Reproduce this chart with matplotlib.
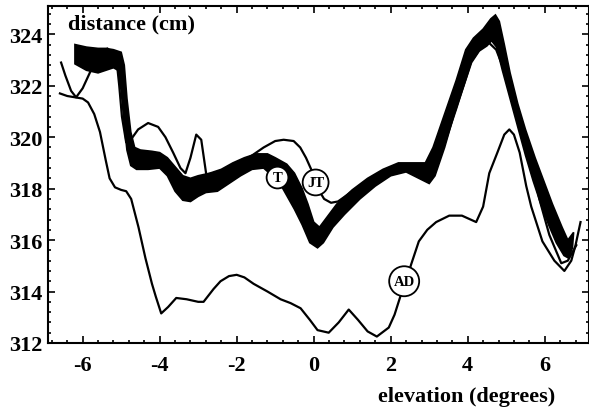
import matplotlib
matplotlib.use("Agg")
from matplotlib import pyplot as plt
from matplotlib.ticker import MultipleLocator

# thick band (T): upper/right edge and lower/left edge
band_hi_x = [-6.2, -5.9, -5.6, -5.4, -5.2, -5.0, -4.92, -4.85, -4.75, -4.65, -4.5, -4.2, -4.0, -3.8, -3.6,
             -3.4, -3.2, -3.0, -2.7, -2.4, -2.1, -1.8, -1.5, -1.2, -1.0, -0.7, -0.5, -0.3, -0.15, 0.0,
             0.15, 0.3, 0.6, 1.0, 1.4, 1.8, 2.2, 2.6, 2.9, 3.1, 3.4, 3.7, 3.95, 4.15, 4.4, 4.6, 4.72,
             4.82, 4.95, 5.1, 5.3, 5.5, 5.75, 5.95, 6.2, 6.45, 6.6, 6.75]
band_hi_y = [323.6, 323.5, 323.45, 323.45, 323.4, 323.3, 322.8, 321.5, 320.2, 319.6, 319.5, 319.45, 319.4,
             319.2, 318.85, 318.5, 318.4, 318.5, 318.6, 318.75, 319.0, 319.2, 319.35, 319.35, 319.2,
             318.95, 318.6, 318.0, 317.4, 316.7, 316.5, 316.8, 317.4, 317.95, 318.4, 318.75, 319.0,
             319.0, 319.0, 319.6, 320.9, 322.2, 323.4, 323.85, 324.2, 324.6, 324.75, 324.5, 323.6,
             322.5, 321.3, 320.3, 319.2, 318.4, 317.4, 316.5, 316.0, 316.3]
band_lo_x = [-6.2, -5.9, -5.6, -5.4, -5.2, -5.08, -5.0, -4.92, -4.85, -4.75, -4.6, -4.3, -4.0, -3.8, -3.6,
             -3.4, -3.2, -3.0, -2.8, -2.5, -2.2, -1.9, -1.6, -1.3, -1.0, -0.8, -0.5, -0.3, -0.1, 0.1,
             0.25, 0.5, 0.8, 1.2, 1.6, 2.0, 2.4, 2.8, 3.0, 3.15, 3.4, 3.65, 3.9, 4.1, 4.3, 4.5, 4.62,
             4.75, 4.9, 5.1, 5.3, 5.5, 5.7, 5.9, 6.1, 6.3, 6.5, 6.62, 6.72]
band_lo_y = [322.85, 322.6, 322.5, 322.6, 322.7, 322.6, 321.8, 320.5, 319.5, 318.9, 318.75, 318.75, 318.8,
             318.5, 317.9, 317.55, 317.5, 317.7, 317.85, 317.9, 318.2, 318.5, 318.75, 318.8, 318.4,
             318.0, 317.2, 316.6, 315.9, 315.7, 315.9, 316.5, 317.0, 317.6, 318.1, 318.5, 318.65,
             318.35, 318.2, 318.5, 319.6, 320.9, 322.0, 322.9, 323.35, 323.55, 323.75, 323.5, 322.6,
             321.5, 320.4, 319.3, 318.3, 317.4, 316.6, 315.9, 315.4, 315.3, 315.7]

# JT curve
jt_x = [-6.56, -6.45, -6.3, -6.17, -6.0, -5.8, -5.6, -5.45, -5.36, -5.25, -5.12, -5.05, -4.98, -4.87,
        -4.75, -4.56, -4.3, -4.04, -3.85, -3.65, -3.46, -3.33, -3.2, -3.05, -2.92, -2.79, -2.6, -2.3,
        -2.0, -1.64, -1.3, -1.0, -0.78, -0.52, -0.35, -0.2, -0.05, 0.05, 0.15, 0.27, 0.45, 0.63, 0.96,
        1.3, 1.7, 2.1, 2.5, 2.8, 3.05, 3.3, 3.7, 4.09, 4.35, 4.53, 4.74, 5.0, 5.26, 5.52, 5.86, 6.12,
        6.43, 6.6, 6.82]
jt_y = [322.9, 322.4, 321.8, 321.55, 321.9, 322.55, 322.95, 323.2, 323.45, 323.3, 323.0, 322.0, 320.8,
        319.8, 319.9, 320.3, 320.55, 320.4, 320.0, 319.4, 318.8, 318.6, 319.2, 320.1, 319.9, 318.55,
        318.6, 318.7, 318.95, 319.25, 319.6, 319.85, 319.9, 319.85, 319.6, 319.2, 318.7, 318.24, 317.9,
        317.6, 317.45, 317.5, 317.85, 318.1, 318.4, 318.65, 318.75, 318.55, 318.35, 319.3, 321.1,
        322.95, 323.5, 323.7, 323.4, 322.4, 321.3, 319.9, 317.6, 316.2, 315.1, 315.2, 315.8]

# AD curve
ad_x = [-6.59, -6.4, -6.2, -6.0, -5.86, -5.7, -5.55, -5.4, -5.3, -5.16, -5.0, -4.87, -4.74, -4.55, -4.37,
        -4.2, -4.1, -3.96, -3.78, -3.57, -3.3, -3.0, -2.86, -2.6, -2.42, -2.2, -2.0, -1.8, -1.56, -1.2,
        -0.86, -0.6, -0.34, -0.1, 0.1, 0.39, 0.65, 0.91, 1.15, 1.4, 1.64, 1.95, 2.1, 2.27, 2.4, 2.53,
        2.73, 2.95, 3.18, 3.52, 3.85, 4.22, 4.4, 4.56, 4.77, 4.95, 5.08, 5.2, 5.35, 5.52, 5.65, 5.94,
        6.25, 6.51, 6.69, 6.8, 6.93]
ad_y = [321.7, 321.6, 321.55, 321.5, 321.35, 320.9, 320.2, 319.1, 318.4, 318.05, 317.95, 317.9, 317.6,
        316.5, 315.3, 314.3, 313.8, 313.15, 313.4, 313.75, 313.7, 313.6, 313.6, 314.1, 314.4, 314.6,
        314.65, 314.55, 314.3, 314.0, 313.7, 313.55, 313.35, 312.9, 312.5, 312.4, 312.8, 313.3, 312.9,
        312.45, 312.25, 312.6, 313.1, 313.9, 314.4, 315.05, 315.95, 316.4, 316.7, 316.95, 316.95,
        316.7, 317.3, 318.6, 319.4, 320.1, 320.3, 320.1, 319.4, 318.1, 317.3, 315.95, 315.2, 314.8,
        315.2, 315.8, 316.7]

# curve labels
label_text = ['T', 'JT', 'AD']
label_x = [-0.94, 0.05, 2.35]
label_y = [318.43, 318.24, 314.4]

x_ticks = [-6, -4, -2, 0, 2, 4, 6]
y_ticks = [312, 314, 316, 318, 320, 322, 324]

plt.rcParams['font.family'] = 'Liberation Serif'
plt.rcParams['font.weight'] = 'bold'
plt.rcParams['axes.unicode_minus'] = False

fig = plt.figure(figsize=(5.89, 4.10), dpi=100)
ax = fig.add_axes([0.0815, 0.161, 0.9185, 0.822])

# band drawn as a filled outline
poly_x = band_hi_x + band_lo_x[::-1]
poly_y = band_hi_y + band_lo_y[::-1]
ax.fill(poly_x, poly_y, color='black', lw=1.2, zorder=2)

ax.plot(jt_x, jt_y, color='black', lw=1.6, solid_joinstyle='round', zorder=3)
ax.plot(ad_x, ad_y, color='black', lw=1.6, solid_joinstyle='round', zorder=3)

for t, lx, ly in zip(label_text, label_x, label_y):
    ax.text(lx, ly, t, ha='center', va='center', fontsize=10.5, fontweight='bold', zorder=5,
            bbox=dict(boxstyle='circle,pad=0.3', fc='white', ec='black', lw=1.3))

ax.set_xlim(-6.9, 7.15)
ax.set_ylim(312, 325.1)
ax.set_xticks(x_ticks)
ax.set_yticks(y_ticks)
ax.xaxis.set_minor_locator(MultipleLocator(0.4))
ax.yaxis.set_minor_locator(MultipleLocator(0.4))
ax.tick_params(which='both', direction='in', top=True, right=True, labelsize=16, width=1.2)
ax.tick_params(which='major', length=5)
ax.tick_params(which='minor', length=2.5)
ax.tick_params(axis='x', pad=9)
ax.tick_params(axis='y', pad=4)
for s in ax.spines.values():
    s.set_linewidth(1.5)

ax.text(0.037, 0.947, 'distance (cm)', transform=ax.transAxes, fontsize=16, fontweight='bold',
        ha='left', va='center')
fig.text(0.793, 0.032, 'elevation (degrees)', fontsize=16, fontweight='bold', ha='center', va='center')

fig.savefig('out.png', dpi=100)
